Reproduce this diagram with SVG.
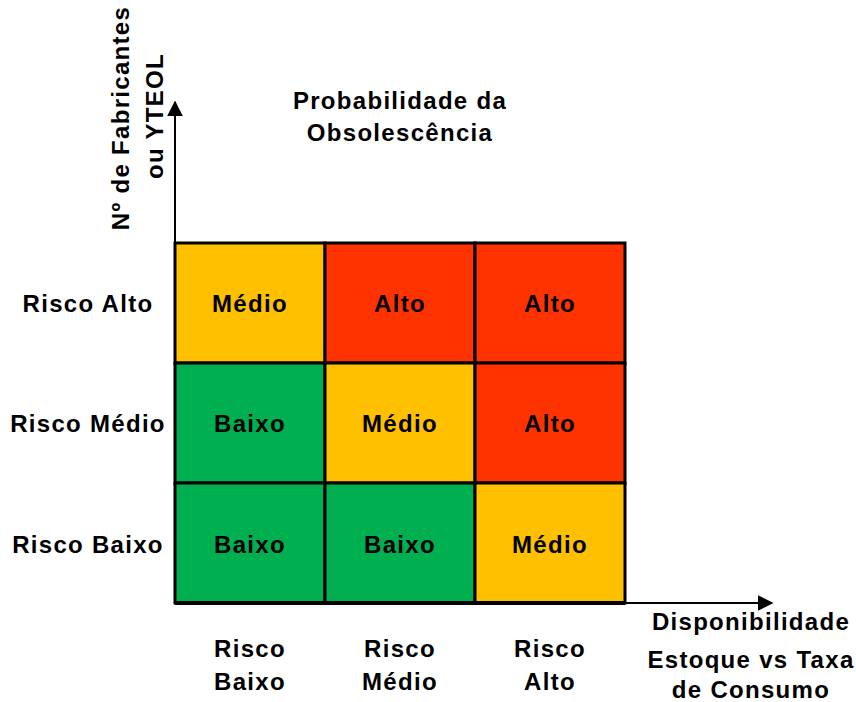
<svg xmlns="http://www.w3.org/2000/svg" width="856" height="702" viewBox="0 0 856 702">
<style>
text{font-family:"Liberation Sans",Arial,sans-serif;font-weight:bold;font-size:24px;letter-spacing:1.3px;fill:#000;text-anchor:middle}
.cell{stroke:#000;stroke-width:3}
.o{fill:#FFC000}.r{fill:#FF3300}.g{fill:#00B050}
.ax{stroke:#000;stroke-width:2;fill:none}
</style>
<defs>
<marker id="ah2" viewBox="0 0 10 10" refX="9" refY="5" markerWidth="16" markerHeight="16" markerUnits="userSpaceOnUse" orient="auto">
<path d="M0,0 L10,5 L0,10 z" fill="#000"/>
</marker>
</defs>
<rect width="856" height="702" fill="#fff"/>
<g id="c11"><rect class="cell o" x="175" y="243" width="150" height="120"/><text x="250" y="312">Médio</text></g>
<g id="c12"><rect class="cell r" x="325" y="243" width="150" height="120"/><text x="400" y="312">Alto</text></g>
<g id="c13"><rect class="cell r" x="475" y="243" width="150" height="120"/><text x="550" y="312">Alto</text></g>
<g id="c21"><rect class="cell g" x="175" y="363" width="150" height="120"/><text x="250" y="432">Baixo</text></g>
<g id="c22"><rect class="cell o" x="325" y="363" width="150" height="120"/><text x="400" y="432">Médio</text></g>
<g id="c23"><rect class="cell r" x="475" y="363" width="150" height="120"/><text x="550" y="432">Alto</text></g>
<g id="c31"><rect class="cell g" x="175" y="483" width="150" height="120"/><text x="250" y="553">Baixo</text></g>
<g id="c32"><rect class="cell g" x="325" y="483" width="150" height="120"/><text x="400" y="553">Baixo</text></g>
<g id="c33"><rect class="cell o" x="475" y="483" width="150" height="120"/><text x="550" y="553">Médio</text></g>
<g id="connectors">
<line class="ax" x1="175" y1="604" x2="175" y2="102" marker-end="url(#ah2)"/>
<line class="ax" x1="175" y1="603" x2="772" y2="603" marker-end="url(#ah2)"/>
<line x1="175" y1="603" x2="625" y2="603" stroke="#000" stroke-width="4"/>
</g>
<g id="labels">
<text x="88" y="312">Risco Alto</text>
<text x="88" y="432">Risco Médio</text>
<text x="88" y="553">Risco Baixo</text>
<text x="250" y="657">Risco</text><text x="250" y="690">Baixo</text>
<text x="400" y="657">Risco</text><text x="400" y="690">Médio</text>
<text x="550" y="657">Risco</text><text x="550" y="690">Alto</text>
<text x="400" y="109">Probabilidade da</text>
<text x="400" y="141">Obsolescência</text>
<text x="751" y="630">Disponibilidade</text>
<text x="751" y="668">Estoque vs Taxa</text>
<text x="751" y="698">de Consumo</text>
<text transform="translate(129,118) rotate(-90)">Nº de Fabricantes</text>
<text transform="translate(163,116) rotate(-90)">ou YTEOL</text>
</g>
</svg>
